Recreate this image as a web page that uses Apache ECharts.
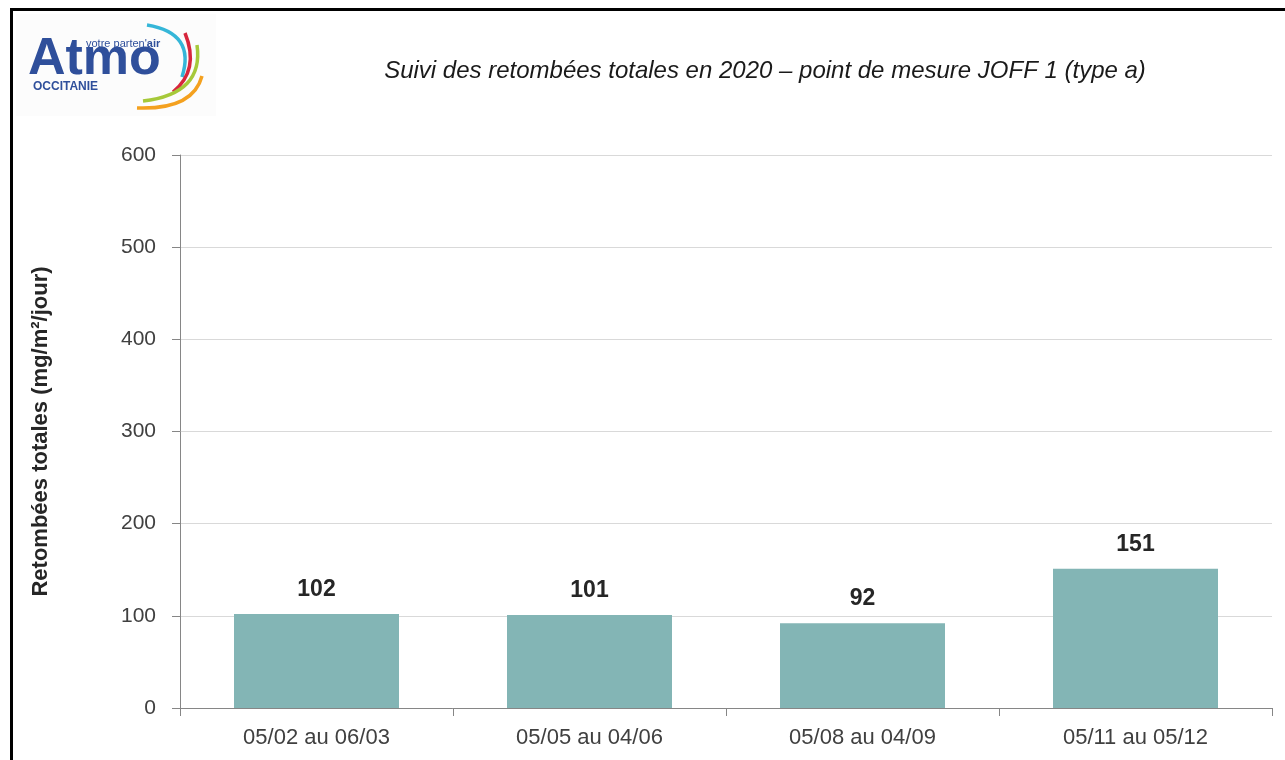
<!DOCTYPE html>
<html>
<head>
<meta charset="utf-8">
<script src="https://cdn.jsdelivr.net/npm/echarts@6/dist/echarts.min.js"></script>
<style>
	html, body { margin: 0; padding: 0; background: #fff; }
	.frame {
		position: absolute;
		left: 10px;
		top: 8px;
		width: 1285px;
		height: 760px;
		border-left: 3px solid #000;
		border-top: 3px solid #000;
	}
	#chart {
		position: absolute;
		left: 0;
		top: 0;
		width: 1285px;
		height: 760px;
	}
</style>
</head>
<body>
<div class="frame"></div>
<div id="chart"></div>
<script>
// périodes de mesure
const periodes = ['05/02 au 06/03', '05/05 au 04/06', '05/08 au 04/09', '05/11 au 05/12']
// retombées totales (mg/m²/jour)
const retombees = [102, 101, 92, 151]

const titre = 'Suivi des retombées totales en 2020 – point de mesure JOFF 1 (type a)'
const nomAxeY = 'Retombées totales (mg/m²/jour)'

const fontBase = 'Liberation Sans, Arial, sans-serif'

// petite courbe du logo
const arcLogo = (x1, y1, cpx, cpy, x2, y2, color) => ({
	type: 'bezierCurve',
	shape: { x1: x1, y1: y1, cpx1: cpx, cpy1: cpy, x2: x2, y2: y2 },
	style: { stroke: color, lineWidth: 3.5, fill: null },
})

// logo Atmo Occitanie (décor)
const logo = [
	{
		type: 'rect',
		shape: { x: 16, y: 14, width: 200, height: 102 },
		style: { fill: '#fcfcfc' },
		silent: true,
	},
	{
		type: 'text',
		left: 28,
		top: 34,
		style: { text: 'Atmo', fill: '#2f4f9b', font: 'bold 52px ' + fontBase },
	},
	{
		type: 'text',
		left: 86,
		top: 38,
		style: {
			text: "{a|votre parten'}{b|air}",
			rich: {
				a: { fill: '#2f4f9b', font: '11px ' + fontBase },
				b: { fill: '#2f4f9b', font: 'bold 11px ' + fontBase },
			},
		},
	},
	{
		type: 'text',
		left: 33,
		top: 81,
		style: { text: 'OCCITANIE', fill: '#2f4f9b', font: 'bold 12px ' + fontBase },
	},
	arcLogo(147, 25, 196, 33, 182, 77, '#35b6d8'),
	arcLogo(185, 33, 200, 70, 173, 92, '#d7263d'),
	arcLogo(197, 45, 204, 94, 143, 101, '#a6c93a'),
	arcLogo(202, 76, 193, 110, 137, 108, '#f4a11f'),
]

const option = {
	animation: false,
	backgroundColor: 'transparent',
	title: {
		text: titre,
		left: 760,
		top: 54,
		textAlign: 'center',
		textStyle: {
			fontFamily: fontBase,
			fontStyle: 'italic',
			fontWeight: 'normal',
			fontSize: 24,
			color: '#1a1a1a',
		},
	},
	graphic: logo,
	grid: {
		left: 180,
		right: 13,
		top: 155,
		bottom: 52,
	},
	xAxis: {
		type: 'category',
		data: periodes,
		axisLine: { lineStyle: { color: '#868686', width: 1 } },
		axisTick: { show: true, length: 8, lineStyle: { color: '#868686' } },
		axisLabel: {
			fontFamily: fontBase,
			fontSize: 22,
			color: '#404040',
			margin: 19,
		},
	},
	yAxis: {
		type: 'value',
		min: 0,
		max: 600,
		interval: 100,
		name: nomAxeY,
		nameLocation: 'middle',
		nameGap: 128,
		nameTextStyle: {
			fontFamily: fontBase,
			fontWeight: 'bold',
			fontSize: 22,
			color: '#262626',
		},
		axisLine: { show: true, lineStyle: { color: '#868686' } },
		axisTick: { show: true, length: 8, lineStyle: { color: '#868686' } },
		axisLabel: {
			fontFamily: fontBase,
			fontSize: 21,
			color: '#404040',
			margin: 24,
		},
		splitLine: { show: true, lineStyle: { color: '#d9d9d9' } },
	},
	series: [
		{
			type: 'bar',
			data: retombees,
			barWidth: 165,
			itemStyle: { color: '#83b5b5' },
			label: {
				show: true,
				position: 'top',
				distance: 13,
				fontFamily: fontBase,
				fontWeight: 'bold',
				fontSize: 23,
				color: '#262626',
			},
		},
	],
}

const myChart = echarts.init(document.getElementById('chart'))
myChart.setOption(option)
</script>
</body>
</html>
